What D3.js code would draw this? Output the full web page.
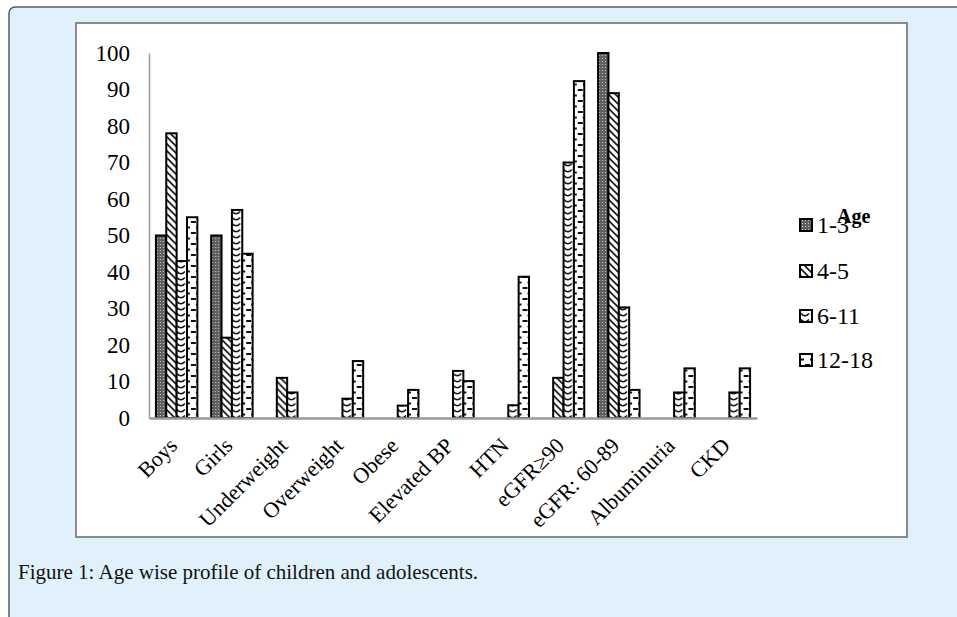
<!DOCTYPE html>
<html>
<head>
<meta charset="utf-8">
<script src="https://cdn.jsdelivr.net/npm/d3@7"></script>
<style>
html,body{margin:0;padding:0;background:#fff;}
svg{display:block;}
</style>
</head>
<body>
<script>
const categories = ["Boys","Girls","Underweight","Overweight","Obese","Elevated BP","HTN","eGFR\u226590","eGFR: 60-89","Albuminuria","CKD"];
const seriesNames = ["1-3","4-5","6-11","12-18"];
const age1_3   = [50, 50, 0, 0,    0,   0,    0,    0,    100,  0,    0];
const age4_5   = [78, 22, 11, 0,   0,   0,    0,    11,   89,   0,    0];
const age6_11  = [43, 57, 7,  5.3, 3.4, 12.9, 3.5,  70,   30.3, 7,    7];
const age12_18 = [55, 45, 0,  15.6,7.7, 10.1, 38.7, 92.3, 7.7,  13.6, 13.6];
const yTicks = [0,10,20,30,40,50,60,70,80,90,100];
const legendTitle = "Age";
const caption = "Figure 1: Age wise profile of children and adolescents.";

const seriesValues = [age1_3, age4_5, age6_11, age12_18];
const serif = "'Liberation Serif','Times New Roman',serif";

const W = 957, H = 617;
const svg = d3.select("body").append("svg").attr("width", W).attr("height", H);
const defs = svg.append("defs");

// patterns
const p1 = defs.append("pattern").attr("id","pat0").attr("patternUnits","userSpaceOnUse").attr("width",3).attr("height",3);
p1.append("rect").attr("width",3).attr("height",3).attr("fill","#5f5f5f");
p1.append("rect").attr("x",1).attr("y",1).attr("width",1).attr("height",1).attr("fill","#c8c8c8");

const p2 = defs.append("pattern").attr("id","pat1").attr("patternUnits","userSpaceOnUse").attr("width",7).attr("height",7);
p2.append("rect").attr("width",7).attr("height",7).attr("fill","#fff");
p2.append("path").attr("d","M-1,-1 L8,8 M-4,3 L1,8 M3,-4 L8,1").attr("stroke","#111").attr("stroke-width",1.6);

const p3 = defs.append("pattern").attr("id","pat2").attr("patternUnits","userSpaceOnUse").attr("width",10).attr("height",6);
p3.append("rect").attr("width",10).attr("height",6).attr("fill","#fff");
p3.append("path").attr("d","M1,1.5 Q5,6 9,1.5").attr("stroke","#111").attr("stroke-width",1.5).attr("fill","none");

const p4 = defs.append("pattern").attr("id","pat3").attr("patternUnits","userSpaceOnUse").attr("width",10).attr("height",11);
p4.append("rect").attr("width",10).attr("height",11).attr("fill","#fff");
p4.append("path").attr("d","M5,2 H10 M0,7.5 H4").attr("stroke","#111").attr("stroke-width",1.8);

// outer panel
svg.append("rect").attr("x",9).attr("y",7).attr("width",W+20).attr("height",H+20)
  .attr("rx",6).attr("fill","#e0f1fb").attr("stroke","#5a5a5a").attr("stroke-width",1.5);
// inner chart box
svg.append("rect").attr("x",76).attr("y",23).attr("width",831).attr("height",514)
  .attr("fill","#fff").attr("stroke","#8a8a8a").attr("stroke-width",2);

const x0 = d3.scaleBand().domain(categories).range([149,757]).paddingInner(0.25).paddingOuter(0.125);
const x1 = d3.scaleBand().domain(seriesNames).range([0, x0.bandwidth()]);
const y = d3.scaleLinear().domain([0,100]).range([418,53]);

// axes
const yAxis = d3.axisLeft(y).tickValues(yTicks).tickSize(0).tickPadding(19);
const gy = svg.append("g").attr("transform","translate(149,0)").call(yAxis);
gy.select(".domain").attr("stroke","#9a9a9a").attr("stroke-width",1.5);
gy.selectAll("text").attr("font-family",serif).attr("font-size",23).attr("fill","#000");

// bars
const groups = svg.append("g").selectAll("g").data(categories).join("g")
  .attr("transform", d => `translate(${x0(d)},0)`);
groups.selectAll("rect").data((d,i) => seriesNames.map((s,j) => ({s, j, v: seriesValues[j][i]})).filter(e => e.v > 0))
  .join("rect")
  .attr("x", e => x1(e.s))
  .attr("width", x1.bandwidth())
  .attr("y", e => y(e.v))
  .attr("height", e => y(0) - y(e.v))
  .attr("fill", e => `url(#pat${e.j})`)
  .attr("stroke","#000").attr("stroke-width",2);

const xAxis = d3.axisBottom(x0).tickSize(0).tickFormat("");
const gx = svg.append("g").attr("transform","translate(0,418)").call(xAxis);
gx.select(".domain").attr("stroke","#9a9a9a").attr("stroke-width",2.5);

// category labels
svg.append("g").selectAll("text").data(categories).join("text")
  .attr("transform", d => `translate(${x0(d)+x0.bandwidth()/2+2},447) rotate(-45)`)
  .attr("text-anchor","end")
  .attr("font-family",serif)
  .attr("font-size",22).attr("fill","#000")
  .text(d => d);

// legend
const lg = svg.append("g");
const legBase = [233, 279, 324, 368];
seriesNames.forEach((s,j) => {
  lg.append("rect").attr("x",800).attr("y",legBase[j]-14).attr("width",12).attr("height",12)
    .attr("fill",`url(#pat${j})`).attr("stroke","#000").attr("stroke-width",2);
  lg.append("text").attr("x",817).attr("y",legBase[j])
    .attr("font-family",serif).attr("font-size",24).attr("fill","#000").text(s);
});
lg.append("text").attr("x",837).attr("y",223)
  .attr("font-family",serif).attr("font-size",20).attr("font-weight","bold").attr("fill","#000").text(legendTitle);

// caption
svg.append("text").attr("x",18).attr("y",579)
  .attr("font-family",serif).attr("font-size",21).attr("fill","#111")
  .text(caption);
</script>
</body>
</html>
